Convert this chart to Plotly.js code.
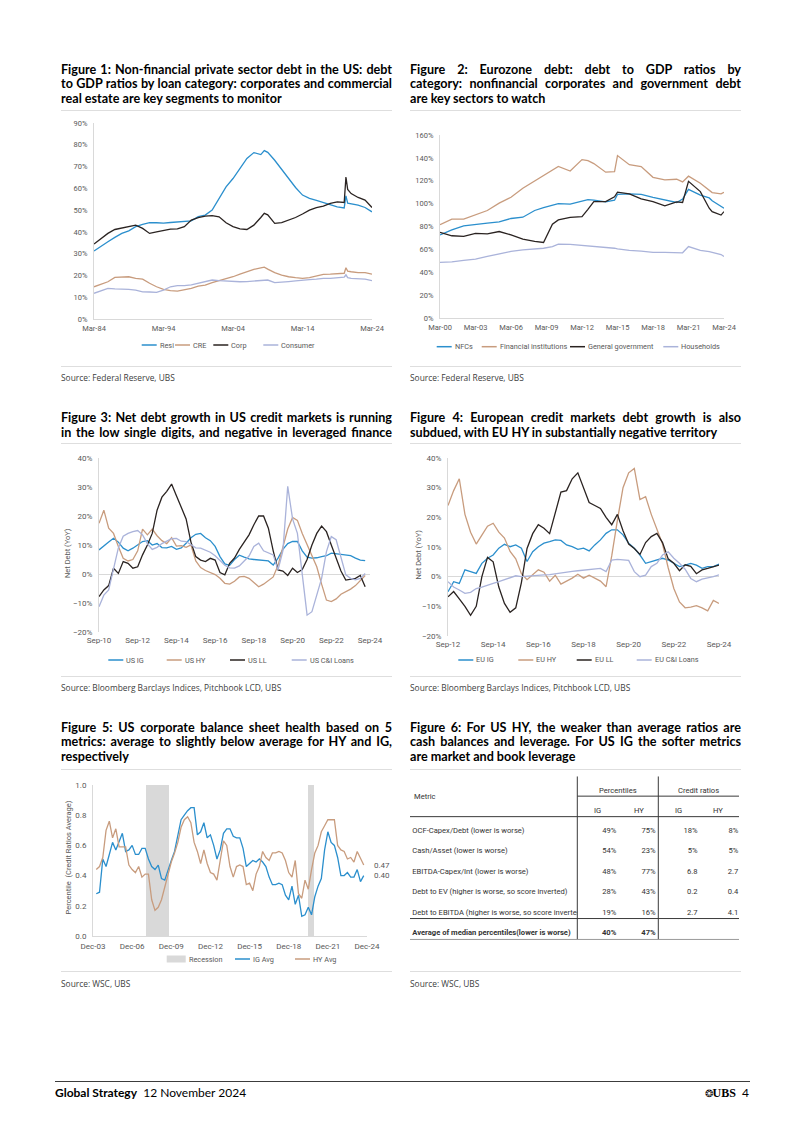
<!DOCTYPE html>
<html><head><meta charset="utf-8">
<script src="https://cdn.plot.ly/plotly-3.0.1.min.js"></script>
<style>
html,body{margin:0;padding:0;background:#fff;}
body{width:802px;height:1134px;position:relative;overflow:hidden;font-family:Lato,'Open Sans',sans-serif;color:#000;}
.title{position:absolute;width:331px;font-weight:bold;font-size:12.5px;line-height:14.5px;}
.title div{text-align:justify;text-align-last:justify;white-space:normal;}
.title div.last{text-align-last:left;}
.rule{position:absolute;height:0;border-top:1px solid #dedede;}
.src{position:absolute;font-family:'Open Sans',sans-serif;font-size:8.4px;color:#404040;}
.chart{position:absolute;}
</style></head>
<body>
<div class="title" id="t1" style="left:61px;top:62.5px"><div>Figure 1: Non-financial private sector debt in the US: debt</div><div>to GDP ratios by loan category: corporates and commercial</div><div class="last">real estate are key segments to monitor</div></div>
<div class="title" id="t2" style="left:410px;top:62.5px"><div>Figure 2: Eurozone debt: debt to GDP ratios by</div><div>category: nonfinancial corporates and government debt</div><div class="last">are key sectors to watch</div></div>
<div class="title" id="t3" style="left:61px;top:411px"><div>Figure 3: Net debt growth in US credit markets is running</div><div>in the low single digits, and negative in leveraged finance</div></div>
<div class="title" id="t4" style="left:410px;top:411px"><div>Figure 4: European credit markets debt growth is also</div><div class="last">subdued, with EU HY in substantially negative territory</div></div>
<div class="title" id="t5" style="left:61px;top:720.5px"><div>Figure 5: US corporate balance sheet health based on 5</div><div>metrics: average to slightly below average for HY and IG,</div><div class="last">respectively</div></div>
<div class="title" id="t6" style="left:410px;top:720.5px"><div>Figure 6: For US HY, the weaker than average ratios are</div><div>cash balances and leverage. For US IG the softer metrics</div><div class="last">are market and book leverage</div></div>

<div class="rule" style="left:61px;top:110px;width:331px"></div>
<div class="rule" style="left:410px;top:110px;width:331px"></div>
<div class="rule" style="left:61px;top:443px;width:331px"></div>
<div class="rule" style="left:410px;top:443px;width:331px"></div>
<div class="rule" style="left:61px;top:769px;width:331px"></div>
<div class="rule" style="left:410px;top:769px;width:331px"></div>
<div class="rule" style="left:61px;top:366px;width:331px"></div>
<div class="rule" style="left:410px;top:366px;width:331px"></div>
<div class="rule" style="left:61px;top:676px;width:331px"></div>
<div class="rule" style="left:410px;top:676px;width:331px"></div>
<div class="rule" style="left:61px;top:971px;width:331px"></div>
<div class="rule" style="left:410px;top:971px;width:331px"></div>

<div class="src" style="left:61px;top:371.5px">Source: Federal Reserve, UBS</div>
<div class="src" style="left:410px;top:371.5px">Source: Federal Reserve, UBS</div>
<div class="src" style="left:61px;top:681.5px">Source: Bloomberg Barclays Indices, Pitchbook LCD, UBS</div>
<div class="src" style="left:410px;top:681.5px">Source: Bloomberg Barclays Indices, Pitchbook LCD, UBS</div>
<div class="src" style="left:61px;top:977.5px">Source: WSC, UBS</div>
<div class="src" style="left:410px;top:977.5px">Source: WSC, UBS</div>

<div class="chart" id="fig1" style="left:55px;top:112px;width:345px;height:250px"></div>
<div class="chart" id="fig2" style="left:400px;top:112px;width:345px;height:250px"></div>
<div class="chart" id="fig3" style="left:55px;top:448px;width:345px;height:225px"></div>
<div class="chart" id="fig4" style="left:400px;top:448px;width:345px;height:225px"></div>
<div class="chart" id="fig5" style="left:55px;top:775px;width:345px;height:195px"></div>
<div class="chart" id="fig6" style="left:405px;top:771px;width:340px;height:173px"></div>

<div style="position:absolute;left:55px;top:1081px;width:695px;border-top:1px solid #3c3c3c"></div>
<div style="position:absolute;left:55px;top:1085px;font-size:12px;line-height:15px;white-space:nowrap"><b>Global Strategy</b>&nbsp;&nbsp;12 November 2024</div>
<div style="position:absolute;right:53px;top:1085px;font-size:12px;line-height:15px;white-space:nowrap"><span style="font-size:10px">&#10050;</span><span style="font-family:'Liberation Serif',serif;font-weight:bold">UBS</span>&nbsp;&nbsp;4</div>

<script>
// ---------------- DATA ----------------
// Figure 1 (x: year, Mar-84 = 1984)
const c1X = [1984,1985,1986,1987,1988,1989,1990,1991,1992,1993,1994,1995,1996,1997,1998,1999,2000,2001,2002,2003,2004,2005,2006,2007,2008,2008.5,2009,2010,2011,2012,2013,2014,2015,2016,2017,2018,2019,2020,2020.25,2020.5,2021,2022,2023,2024];
const c1Resi = [31.2,33.5,35.5,37.5,39.3,40.5,42.4,43.5,44.2,44.2,44.0,44.3,44.5,44.6,45.1,47.0,47.7,50.0,55.3,60.7,64.5,69.1,73.7,76.4,75.5,77.3,76.5,72.9,68.7,64.5,60.4,56.9,55.4,54.5,53.4,52.3,51.5,51.0,56.5,53.2,53.0,52.3,51.2,49.2];
const c1CRE = [14.8,16,17.1,19.1,19.4,19.4,18.7,18.3,16.4,14.8,13.6,13,12.8,13.3,14.1,15.1,15.6,16.7,17.6,18.2,19.4,20.6,21.7,22.8,23.5,23.8,22.9,21.3,20.2,19.4,19,18.7,19,19.9,20.5,20.6,20.9,21,23.5,22,21.7,21.3,21.3,20.6];
const c1Corp = [34.4,37,39.3,41.1,41.8,42.4,43.1,41.6,39.3,40,40.5,41.3,41.4,42.4,45.4,46.6,47.2,47.5,46.9,44.2,42.4,41.4,41.1,43.1,46.6,48.5,47.8,43.9,44.3,45.4,46.6,48.2,50,51.1,51.8,53.1,53.8,53.5,65.2,59.5,57.6,55.8,54.6,51.2];
const c1Cons = [11.8,13,14.1,13.8,13.8,13.6,13.3,12.5,12.4,12.2,13.3,14.8,15.3,15.3,15.7,16.4,17.4,17.9,17.6,17.4,17.3,17.1,17.2,17.4,17.9,18,17.9,16.7,17.1,17.2,17.5,17.9,18.1,18.3,18.7,18.7,19.1,19.2,20.3,19,18.7,18.5,18.3,17.6];
const c1Names = ["Resi","CRE","Corp","Consumer"];
const c1TickVals = [1984,1994,2004,2014,2024];
const c1TickText = ["Mar-84","Mar-94","Mar-04","Mar-14","Mar-24"];

// Figure 2 (x: year, Mar-00 = 2000)
const c2X = [2000,2001,2002,2003,2004,2005,2006,2007,2008,2008.75,2009.5,2010,2011,2012,2012.5,2013,2014,2014.75,2015,2016,2017,2018,2019,2020,2020.5,2021,2022,2022.75,2023,2023.75,2024];
const c2NFC = [72.7,77.1,80.6,82,82.9,84.1,87,88.1,94,96.5,98.5,100,99.5,102,103.5,103,101.5,103,108,108.5,108,105.5,103,101,104,112.5,107.5,105,102.5,98,96];
const c2Fin = [81.5,86.4,86.4,90.2,94,100.4,105.6,113.5,119.9,124,129.5,132.5,128.5,138.5,137.5,135,127.5,128,142,134,132.4,123,120.7,121.3,119,124,117.8,112,109.7,108.5,110];
const c2Gov = [74.8,71.9,71.3,74,73.5,75.6,72.7,68.9,66.9,66,82,85.8,88,88.7,95,101.8,101.8,106,110,108.5,104.1,101.8,98,101.5,101,119.5,110.5,96,93,90,93];
const c2HH = [48.6,49.1,50.3,51.5,53.8,55.9,58.2,59.6,60.5,61,62.5,64.6,64.3,63.4,63.2,63,62,61,60.5,59.1,58.5,57.3,57.3,56.7,57,62.5,59.1,58,57.3,55.5,53.8];
const c2Names = ["NFCs","Financial institutions","General government","Households"];
const c2TickVals = [2000,2003,2006,2009,2012,2015,2018,2021,2024];
const c2TickText = ["Mar-00","Mar-03","Mar-06","Mar-09","Mar-12","Mar-15","Mar-18","Mar-21","Mar-24"];

// Figure 3 (quarterly from Sep-10)
const c3Start = 2010.75;
const c3IG = [8.3,9.5,11,12.3,11,8.9,8,8.9,10,11.2,11.5,10,10.5,9.1,9,9.5,8.5,9,10.6,12.5,13.7,14,12.5,11.5,9.5,6,3.5,3,5,6.5,5.8,5.2,5,4.8,4.8,4.5,3.1,5.5,8.5,10.5,11.2,11.2,8,5.8,5.5,5.6,6,6.3,7.2,7,6.6,6.4,6.3,5.5,4.8,4.6];
const c3HY = [17.5,22,15.8,14,9.5,5.4,4.5,5,8,15.5,13.5,15.5,13.2,11.5,10.5,12.5,9.6,9.8,9.2,10,4.5,2.2,1.2,0.6,-0.2,-1.5,-3.2,-3.5,-2.5,-1,-0.8,-1.5,-3,-4.4,-3.5,-2.4,-1,3,9,15.5,19.5,18.5,14,10,6,2.5,-3.5,-9,-9.5,-8.6,-7,-6.2,-5.2,-4,-2.3,-0.5];
const c3LL = [-7.8,-5.5,-4,2,0.2,4.3,3.7,2,2.5,6.6,10,14,22,26.5,28.5,31,27,23,19,11,6,4.8,4.3,5.4,4.8,0.5,-0.3,3.7,5.5,8.5,11,13.5,17,20,20,15.8,8,1.4,1,-0.5,2,0.5,1.5,5,10,14,16.5,14.6,10,5.4,1,-2.1,-1.8,-1.5,-0.5,-4.4];
const c3CI = [-11.3,-7.3,-5.5,2,9,13,14,14.6,15,13.5,10.5,8.5,9.2,10.5,11.5,12.2,12.3,11.3,11.2,10.2,9,8.9,8.3,7.5,6.3,4.8,3,2.1,2,2.8,4.5,6.2,9.5,10.6,8,7.2,6.6,1.4,8,30.2,19,14,0,-14.2,-13,-7.3,-1.5,7.7,12.9,11.8,5.4,-0.3,-1.5,-2,-1.5,0.2];
const c3Names = ["US IG","US HY","US LL","US C&I Loans"];
const c3TickVals = [2010.75,2012.75,2014.75,2016.75,2018.75,2020.75,2022.75,2024.75];
const c3TickText = ["Sep-10","Sep-12","Sep-14","Sep-16","Sep-18","Sep-20","Sep-22","Sep-24"];

// Figure 4 (quarterly from Sep-12)
const c4Start = 2012.75;
const c4IG = [-5.1,-1.7,-2.3,2.3,1.7,1.1,4.5,6.2,7.3,9.6,10.9,10.1,10.7,9.6,5.1,8.4,10.1,11.3,11.8,12.4,12.2,10.7,10.1,9.2,9.6,8.7,10.7,12.4,14.6,15.8,15.8,14.1,11.3,9.6,7.3,4.5,5.1,5.6,6.2,5.6,4.5,3.4,3.9,4.5,3.9,2.8,3.4,3.4,4.2];
const c4HY = [24,29,33,21,15,11,14,17,18,15,13,8.5,6,1,-1,0.5,2.3,1.5,-1.5,0.5,-2.5,-1.5,-0.5,0.8,-0.5,0.5,-0.5,-1.5,-3.4,7,19,30,35,36.5,26,27,21,16,11,3,-4,-8.5,-10.5,-10.3,-9.8,-10.5,-11.5,-8,-9];
const c4LL = [-6.8,-5,-7.5,-10,-13,-10,0,6.5,5,-3.5,-9,-12,-10.5,-2,9.5,14.5,17.5,16.3,14.5,22,28.5,29,33,35,30,25,24,23,20,17.5,21,15.5,11,9.5,7.5,11.5,13.5,14.6,11.5,6,4.5,2,4,3.5,1,2.3,2.8,3.4,3.9];
const c4CI = [-1.7,-3.5,-4.5,-5.6,-5.3,-4,-3.5,-2.8,-2.3,-1.7,-1,-0.3,0.3,0,0.2,0.3,0.5,0.6,0.7,1,1.3,1.7,1.8,2,2.2,2.3,2.6,2.8,1.7,5.6,5.8,5.7,5.5,1.7,0,0.5,3.4,4.5,7.3,8.4,6.2,4.5,2.5,-0.6,-1.7,-0.8,-0.5,0,0.6];
const c4Names = ["EU IG","EU HY","EU LL","EU C&I Loans"];
const c4TickVals = [2012.75,2014.75,2016.75,2018.75,2020.75,2022.75,2024.75];
const c4TickText = ["Sep-12","Sep-14","Sep-16","Sep-18","Sep-20","Sep-22","Sep-24"];

// Figure 5 (quarterly from Mar-04; x: Dec-03 = 2004)
const c5Start = 2004.25;
const c5IG = [0.28,0.29,0.51,0.46,0.54,0.62,0.57,0.62,0.68,0.56,0.57,0.60,0.54,0.54,0.58,0.58,0.51,0.46,0.44,0.47,0.38,0.37,0.44,0.50,0.56,0.66,0.77,0.80,0.83,0.85,0.85,0.67,0.69,0.75,0.65,0.67,0.60,0.51,0.57,0.68,0.71,0.71,0.66,0.65,0.65,0.58,0.46,0.48,0.50,0.49,0.51,0.49,0.46,0.39,0.34,0.34,0.35,0.34,0.27,0.24,0.33,0.21,0.27,0.13,0.14,0.19,0.14,0.26,0.33,0.38,0.57,0.69,0.62,0.60,0.52,0.40,0.40,0.42,0.39,0.39,0.44,0.36,0.40];
const c5HY = [0.44,0.46,0.52,0.70,0.76,0.65,0.71,0.59,0.59,0.59,0.47,0.44,0.42,0.46,0.39,0.41,0.41,0.24,0.17,0.19,0.24,0.33,0.42,0.49,0.55,0.62,0.72,0.77,0.79,0.75,0.62,0.56,0.48,0.57,0.48,0.42,0.41,0.37,0.50,0.63,0.60,0.46,0.39,0.46,0.47,0.46,0.34,0.35,0.30,0.41,0.46,0.56,0.52,0.50,0.55,0.55,0.56,0.55,0.50,0.42,0.39,0.50,0.28,0.25,0.37,0.31,0.44,0.55,0.60,0.69,0.73,0.77,0.77,0.77,0.60,0.57,0.56,0.51,0.52,0.49,0.56,0.51,0.47];
const c5RecStart = [2008.07,2020.47];
const c5RecEnd = [2009.81,2020.95];
const c5Names = ["Recession","IG Avg","HY Avg"];
const c5TickVals = [2004,2007,2010,2013,2016,2019,2022,2025];
const c5TickText = ["Dec-03","Dec-06","Dec-09","Dec-12","Dec-15","Dec-18","Dec-21","Dec-24"];

// Figure 6 table
const t6Metrics = ["OCF-Capex/Debt (lower is worse)","Cash/Asset (lower is worse)","EBITDA-Capex/Int (lower is worse)","Debt to EV (higher is worse, so score inverted)","Debt to EBITDA (higher is worse, so score inverted)","Average of median percentiles(lower is worse)"];
const t6PctIG = [49,54,48,28,19,40];
const t6PctHY = [75,23,77,43,16,47];
const t6CrIG = ["18%","5%","6.8","0.2","2.7",""];
const t6CrHY = ["8%","5%","2.7","0.4","4.1",""];
const t6Groups = ["Percentiles","Credit ratios"];
const t6Sub = ["IG","HY","IG","HY"];
const t6MetricHead = "Metric";

// ---------------- STYLE ----------------
const FONT = "Roboto, 'Open Sans', sans-serif";
const TICK = '#595959', AXC = '#d9d9d9';
const BLUE = '#2b8fcd', TAN = '#c89c7e', DARK = '#2a2321', LAV = '#aab3da', RECC = '#d9d9d9';
const CFG = {staticPlot:true, displayModeBar:false};

function quarters(start, n){ const a=[]; for(let i=0;i<n;i++) a.push(start+0.25*i); return a; }
function line(x,y,name,color){ return {type:'scatter',mode:'lines',x:x,y:y,name:name,line:{color:color,width:1.3},hoverinfo:'skip',showlegend:false}; }
function xAx(vals,text,range,size,showline){ return {range:range,tickmode:'array',tickvals:vals,ticktext:text,showgrid:false,zeroline:false,showline:showline,linecolor:AXC,linewidth:1,ticks:'',tickfont:{family:FONT,size:size,color:TICK},fixedrange:true,ticklabelstandoff:2}; }
function yAx(range,dtick,suffix,size,zl,fmt){ const a={range:range,tick0:0,dtick:dtick,ticksuffix:suffix,showgrid:false,zeroline:zl,zerolinecolor:AXC,zerolinewidth:1,showline:true,linecolor:AXC,linewidth:1,ticks:'',tickfont:{family:FONT,size:size,color:TICK},fixedrange:true,ticklabelstandoff:4}; if(fmt) a.tickformat=fmt; return a; }
function base(box){ return {width:box.w,height:box.h,margin:box.m,paper_bgcolor:'rgba(0,0,0,0)',plot_bgcolor:'rgba(0,0,0,0)',font:{family:FONT,size:8,color:TICK},showlegend:false,shapes:[],annotations:[]}; }
// page-pixel -> paper helpers for a chart box
function pxX(box,X){ return (X-box.left-box.m.l)/(box.w-box.m.l-box.m.r); }
function pxY(box,Y){ return (box.top+box.h-box.m.b-Y)/(box.h-box.m.t-box.m.b); }
// hand-drawn legend (line samples / rect + labels) taken from the traces
function legend(L,box,traces,starts,Y){
  traces.forEach((t,i)=>{
    let tx;
    if(t.type==='bar'){
      L.shapes.push({type:'rect',xref:'paper',yref:'paper',x0:pxX(box,starts[i]),x1:pxX(box,starts[i]+19),y0:pxY(box,Y+3.5),y1:pxY(box,Y-3.5),fillcolor:t.marker.color,line:{width:0}});
      tx = starts[i]+20;
    } else {
      L.shapes.push({type:'line',xref:'paper',yref:'paper',x0:pxX(box,starts[i]),x1:pxX(box,starts[i]+15),y0:pxY(box,Y),y1:pxY(box,Y),line:{color:t.line.color,width:1.5}});
      tx = starts[i]+16;
    }
    L.annotations.push({xref:'paper',yref:'paper',x:pxX(box,tx),y:pxY(box,Y),text:t.name,showarrow:false,xanchor:'left',yanchor:'middle',font:{family:FONT,size:7.3,color:TICK}});
  });
}
function yTitle(L,box,text,X,Y,size){
  L.annotations.push({xref:'paper',yref:'paper',x:pxX(box,X),y:pxY(box,Y),text:text,textangle:-90,showarrow:false,xanchor:'center',yanchor:'middle',font:{family:FONT,size:size,color:TICK}});
}

// Figure 1
(function(){
  const box = {left:55,top:112,w:345,h:250,m:{l:39,r:28,t:11,b:43}};
  const L = base(box);
  L.xaxis = xAx(c1TickVals,c1TickText,[1984,2024],7.5,true);
  L.yaxis = yAx([0,90],10,'%',7.5,false);
  const tr = [line(c1X,c1Resi,c1Names[0],BLUE),line(c1X,c1CRE,c1Names[1],TAN),line(c1X,c1Corp,c1Names[2],DARK),line(c1X,c1Cons,c1Names[3],LAV)];
  legend(L,box,tr,[141.7,175,213.3,263.3],345);
  Plotly.newPlot('fig1',tr,L,CFG);
})();
// Figure 2
(function(){
  const box = {left:400,top:112,w:345,h:250,m:{l:40,r:21,t:23,b:44}};
  const L = base(box);
  L.xaxis = xAx(c2TickVals,c2TickText,[2000,2024],7.5,true);
  L.yaxis = yAx([0,160],20,'%',7.5,false);
  const tr = [line(c2X,c2NFC,c2Names[0],BLUE),line(c2X,c2Fin,c2Names[1],TAN),line(c2X,c2Gov,c2Names[2],DARK),line(c2X,c2HH,c2Names[3],LAV)];
  legend(L,box,tr,[436.7,481.7,570,663.3],346.7);
  Plotly.newPlot('fig2',tr,L,CFG);
})();
// Figure 3
(function(){
  const box = {left:55,top:448,w:345,h:225,m:{l:44,r:30,t:10,b:41}};
  const x = quarters(c3Start,c3IG.length);
  const L = base(box);
  L.xaxis = xAx(c3TickVals,c3TickText,[2010.75,2024.75],8,false);
  L.yaxis = yAx([-20,40],10,'%',8,true);
  const tr = [line(x,c3IG,c3Names[0],BLUE),line(x,c3HY,c3Names[1],TAN),line(x,c3LL,c3Names[2],DARK),line(x,c3CI,c3Names[3],LAV)];
  legend(L,box,tr,[108.3,166.7,230,291.7],660);
  yTitle(L,box,'Net Debt (YoY)',68,553,7.5);
  Plotly.newPlot('fig3',tr,L,CFG);
})();
// Figure 4
(function(){
  const box = {left:400,top:448,w:345,h:225,m:{l:48,r:26,t:10,b:37}};
  const x = quarters(c4Start,c4IG.length);
  const L = base(box);
  L.xaxis = xAx(c4TickVals,c4TickText,[2012.75,2024.75],8,false);
  L.yaxis = yAx([-20,40],10,'%',8,true);
  const tr = [line(x,c4IG,c4Names[0],BLUE),line(x,c4HY,c4Names[1],TAN),line(x,c4LL,c4Names[2],DARK),line(x,c4CI,c4Names[3],LAV)];
  legend(L,box,tr,[458.3,518.3,576.7,636.7],660);
  yTitle(L,box,'Net Debt (YoY)',417.5,555,7.5);
  Plotly.newPlot('fig4',tr,L,CFG);
})();
// Figure 5
(function(){
  const box = {left:55,top:775,w:345,h:195,m:{l:38,r:33,t:10,b:34}};
  const xi = quarters(c5Start,c5IG.length);
  const xh = quarters(c5Start,c5HY.length);
  const L = base(box);
  L.xaxis = xAx(c5TickVals,c5TickText,[2004,2025],8,true);
  L.yaxis = yAx([0,1],0.2,'',8,false,'.1f');
  L.bargap = 0;
  const rec = {type:'bar',name:c5Names[0],x:c5RecStart.map((s,i)=>(s+c5RecEnd[i])/2),y:c5RecStart.map(()=>1),width:c5RecStart.map((s,i)=>c5RecEnd[i]-s),marker:{color:RECC,line:{width:0}},hoverinfo:'skip',showlegend:false};
  const ig = line(xi,c5IG,c5Names[1],BLUE), hy = line(xh,c5HY,c5Names[2],TAN);
  legend(L,box,[rec,ig,hy],[166.7,235,295],959);
  yTitle(L,box,'Percentile  (Credit Ratios Average)',67.5,858,7.5);
  [[xh,c5HY],[xi,c5IG]].forEach(([xs,ys])=>{
    L.annotations.push({x:xs[xs.length-1],y:ys[ys.length-1],xref:'x',yref:'y',text:ys[ys.length-1].toFixed(2),showarrow:false,xanchor:'left',yanchor:'middle',xshift:8,font:{family:FONT,size:8,color:TICK}});
  });
  Plotly.newPlot('fig5',[rec,ig,hy],L,CFG);
})();
// Figure 6 table (x in px from table left, y in row units)
(function(){
  const W = 340, COLS = {metric:7.3, pIG:211.3, pHY:250.7, cIG:292.5, cHY:333.3, v1:172.3, v2:253.3, right:334, left:5,
    sub:[192.7,233.5,273.5,313.3], grp:[213.3,293.5]};
  const ROW = {group:-1.97, sub:-0.99, metric:-1.67, top:-2.66, lineGrp:-1.7, lineHead:-0.7, lineAvg:4.27, bottom:5.29};
  const n = t6Metrics.length, rows = t6Metrics.map((m,i)=>i);
  const bold = (s,i)=> i===n-1 ? '<b>'+s+'</b>' : s;
  const tf = {family:'Roboto, sans-serif',size:7.6,color:'#333'};
  const traces = [
    {type:'scatter',mode:'text',x:rows.map(()=>COLS.metric),y:rows,text:t6Metrics.map(bold),textposition:'middle right',textfont:tf,xaxis:'x2',yaxis:'y',cliponaxis:true,hoverinfo:'skip'},
    {type:'scatter',mode:'text',x:rows.map(()=>COLS.pIG),y:rows,text:t6PctIG.map((v,i)=>bold(v+'%',i)),textposition:'middle left',textfont:tf,hoverinfo:'skip'},
    {type:'scatter',mode:'text',x:rows.map(()=>COLS.pHY),y:rows,text:t6PctHY.map((v,i)=>bold(v+'%',i)),textposition:'middle left',textfont:tf,hoverinfo:'skip'},
    {type:'scatter',mode:'text',x:rows.map(()=>COLS.cIG),y:rows,text:t6CrIG,textposition:'middle left',textfont:tf,hoverinfo:'skip'},
    {type:'scatter',mode:'text',x:rows.map(()=>COLS.cHY),y:rows,text:t6CrHY,textposition:'middle left',textfont:tf,hoverinfo:'skip'}
  ];
  const ann = [];
  ann.push({x:COLS.metric,y:ROW.metric,text:t6MetricHead,xanchor:'left'});
  t6Groups.forEach((g,i)=>ann.push({x:COLS.grp[i],y:ROW.group,text:g,xanchor:'center'}));
  t6Sub.forEach((g,i)=>ann.push({x:COLS.sub[i],y:ROW.sub,text:g,xanchor:'center'}));
  ann.forEach(a=>{a.xref='x';a.yref='y';a.showarrow=false;a.yanchor='middle';a.font=tf;});
  const lc = '#3a3a3a';
  const shapes = [
    {type:'line',xref:'x',yref:'y',x0:COLS.v1,x1:COLS.v1,y0:ROW.top,y1:ROW.bottom,line:{color:lc,width:1}},
    {type:'line',xref:'x',yref:'y',x0:COLS.v2,x1:COLS.v2,y0:ROW.top,y1:ROW.bottom,line:{color:lc,width:1}},
    {type:'line',xref:'x',yref:'y',x0:COLS.v1,x1:COLS.right,y0:ROW.lineGrp,y1:ROW.lineGrp,line:{color:lc,width:1}},
    {type:'line',xref:'x',yref:'y',x0:COLS.left,x1:COLS.right,y0:ROW.lineHead,y1:ROW.lineHead,line:{color:lc,width:1}},
    {type:'line',xref:'x',yref:'y',x0:COLS.left,x1:COLS.right,y0:ROW.lineAvg,y1:ROW.lineAvg,line:{color:lc,width:1}},
    {type:'line',xref:'x',yref:'y',x0:COLS.left,x1:COLS.right,y0:ROW.bottom,y1:ROW.bottom,line:{color:'#9a9a9a',width:1}}
  ];
  const L = {width:W,height:173,margin:{l:0,r:0,t:0,b:0},paper_bgcolor:'rgba(0,0,0,0)',plot_bgcolor:'rgba(0,0,0,0)',showlegend:false,
    xaxis:{range:[0,W],visible:false,fixedrange:true},
    xaxis2:{range:[0,COLS.v1],domain:[0,COLS.v1/W],visible:false,fixedrange:true,anchor:'y'},
    yaxis:{range:[5.512,-2.927],visible:false,fixedrange:true},
    annotations:ann,shapes:shapes};
  Plotly.newPlot('fig6',traces,L,CFG);
})();

// fit title font so lines fit the column width
(function(){
  const probe = document.createElement('span');
  probe.style.cssText='position:absolute;visibility:hidden;white-space:nowrap;font-weight:bold;font-family:Lato,"Open Sans",sans-serif;font-size:12px';
  document.body.appendChild(probe);
  let maxW = 0;
  document.querySelectorAll('.title div').forEach(d=>{probe.textContent=d.textContent;maxW=Math.max(maxW,probe.getBoundingClientRect().width);});
  const fs = Math.min(12.8, 12*329/maxW);
  document.querySelectorAll('.title').forEach(t=>t.style.fontSize=fs+'px');
  probe.remove();
})();
</script>
</body></html>
